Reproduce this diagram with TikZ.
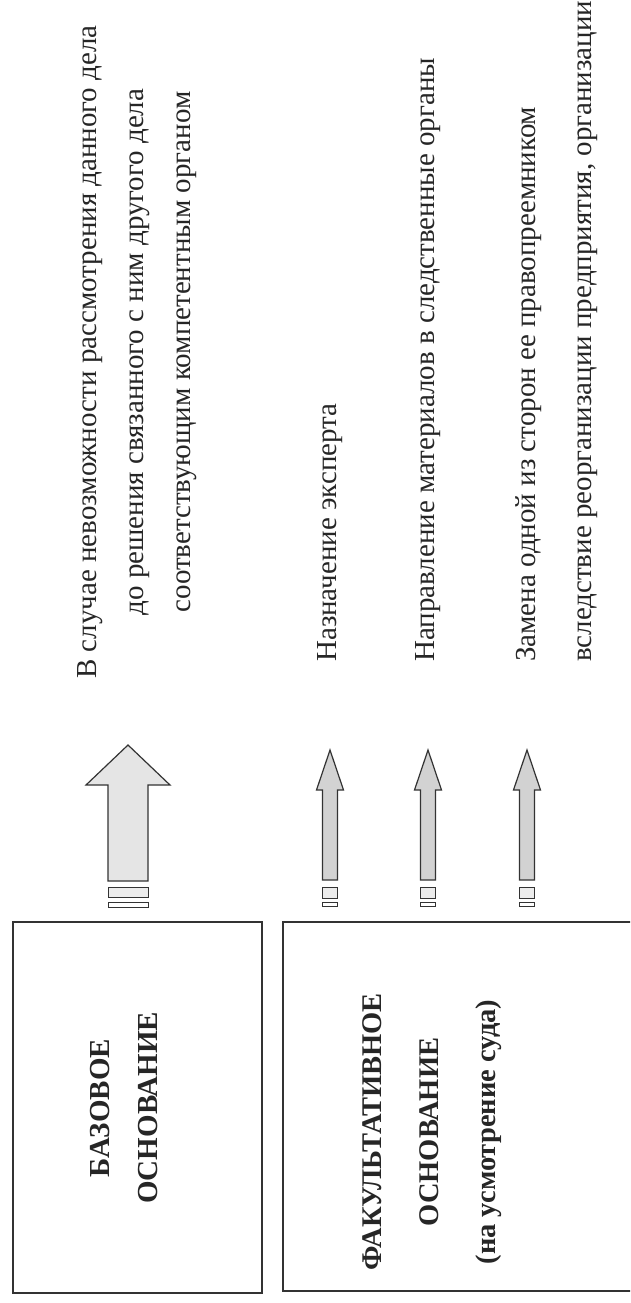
\documentclass[tikz,border=0pt]{standalone}
\usepackage{fontspec}
\setmainfont{Liberation Serif}
\begin{document}
\begin{tikzpicture}[x=1pt,y=-1pt,
  frame/.style={draw=black!80, line width=1.1pt, inner sep=0pt, outer sep=0pt},
  headtxt/.style={font=\fontsize{29}{48}\selectfont\bfseries, text=black!85, rotate=90, align=center, inner sep=0pt},
  txt/.style={font=\fontsize{29}{47}\selectfont, text=black!85, rotate=90, inner sep=0pt},
  arr/.style={draw=black!80, line width=1.2pt, fill=gray!35, line join=miter},
  tailbox/.style={draw=black!80, line width=1pt, fill=gray!15}]
\useasboundingbox (0,0) rectangle (630,1303);
\fill[white] (0,0) rectangle (630,1303);
\begin{scope}
\clip (0,0) rectangle (630,1303);
% boxes
\node[frame, minimum width=249pt, minimum height=371pt] (box1) at (137.5,1107.5) {};
\node[frame, minimum width=380pt, minimum height=369pt] (box2) at (473,1106.5) {};
\node[headtxt] (t1) at (124,1108) {БАЗОВОЕ\\ОСНОВАНИЕ};
\node[headtxt, font=\fontsize{28.5}{57}\selectfont\bfseries] (t2) at (432,1132) {ФАКУЛЬТАТИВНОЕ\\ОСНОВАНИЕ\\(на усмотрение суда)};
% texts
\node[txt, align=center] (r1) at (137,352) {В случае невозможности рассмотрения данного дела\\до решения связанного с ним другого дела\\соответствующим компетентным органом};
\node[txt, anchor=west] (r2) at (330,662) {Назначение эксперта};
\node[txt, anchor=west] (r3) at (428,662) {Направление материалов в следственные органы};
\node[txt, anchor=west, align=left, font=\fontsize{29}{56}\selectfont] (r4) at (557,662) {Замена одной из сторон ее правопреемником\\вследствие реорганизации предприятия, организации};
% big arrow
\draw[arr, fill=gray!20] (128,745) -- (170,785) -- (148,785) -- (148,881) -- (108,881) -- (108,785) -- (86,785) -- cycle;
\draw[tailbox] (108,887) rectangle (148,897);
\draw[tailbox, fill=white] (108,902) rectangle (148,907);
% small arrows
\foreach \cx in {330,428,527}{
  \draw[arr] (\cx,750) -- (\cx+13.5,790) -- (\cx+7.5,790) -- (\cx+7.5,880) -- (\cx-7.5,880) -- (\cx-7.5,790) -- (\cx-13.5,790) -- cycle;
  \draw[tailbox] (\cx-7.5,887) rectangle (\cx+7.5,898);
  \draw[tailbox, fill=white] (\cx-7.5,902) rectangle (\cx+7.5,906.5);
}
\end{scope}
\end{tikzpicture}
\end{document}
